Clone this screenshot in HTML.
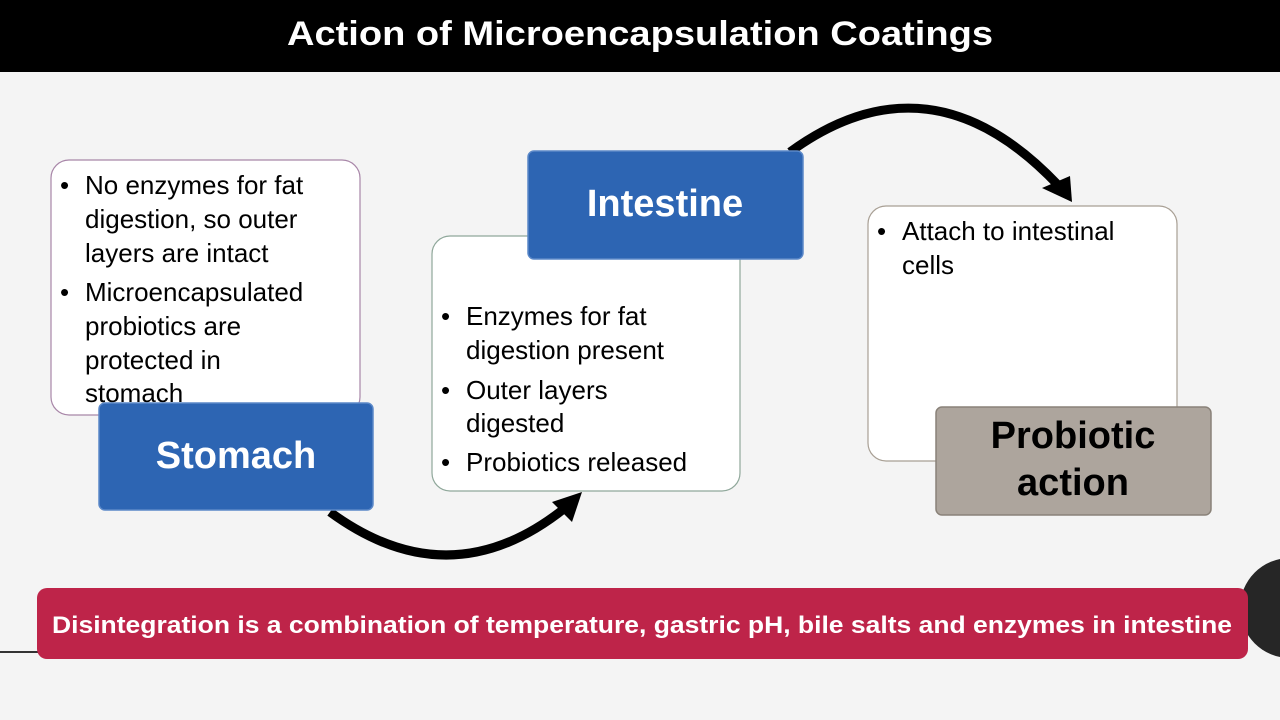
<!DOCTYPE html>
<html><head><meta charset="utf-8"><style>
html,body{margin:0;padding:0;background:#f4f4f4;}
svg{display:block;font-family:"Liberation Sans",sans-serif;}
</style></head><body>
<svg width="1280" height="720" viewBox="0 0 1280 720" xmlns="http://www.w3.org/2000/svg">
<rect width="1280" height="720" fill="#f4f4f4"/>
<rect width="1280" height="72" fill="#000"/>
<text x="640" y="45" fill="#fff" font-size="34" font-weight="bold" text-anchor="middle" textLength="706" lengthAdjust="spacingAndGlyphs">Action of Microencapsulation Coatings</text>

<!-- arrows -->
<path d="M330,512 Q450,600 565,508" fill="none" stroke="#000" stroke-width="9"/>
<polygon points="582,492 552,502 572,522" fill="#000"/>
<path d="M790,152 Q930,50 1058,185" fill="none" stroke="#000" stroke-width="9"/>
<polygon points="1072,202 1042,188 1070,176" fill="#000"/>

<!-- box1 -->
<rect x="51" y="160" width="309" height="255" rx="18" fill="#fff" stroke="#a886a8" stroke-width="1.2"/>
<g font-size="26" fill="#000">
<text x="60" y="194">•</text><text x="85" y="194">No enzymes for fat</text>
<text x="85" y="228">digestion, so outer</text>
<text x="85" y="262">layers are intact</text>
<text x="60" y="301">•</text><text x="85" y="301">Microencapsulated</text>
<text x="85" y="335">probiotics are</text>
<text x="85" y="369">protected in</text>
<text x="85" y="402">stomach</text>
</g>
<rect x="99" y="403" width="274" height="107" rx="6" fill="#2d65b3" stroke="#5b88c8" stroke-width="1.5"/>
<text x="236" y="468" font-size="38" font-weight="bold" fill="#fff" text-anchor="middle">Stomach</text>

<!-- box2 -->
<rect x="432" y="236" width="308" height="255" rx="18" fill="#fff" stroke="#8fa79a" stroke-width="1.2"/>
<g font-size="26" fill="#000">
<text x="441" y="325">•</text><text x="466" y="325">Enzymes for fat</text>
<text x="466" y="359">digestion present</text>
<text x="441" y="399">•</text><text x="466" y="399">Outer layers</text>
<text x="466" y="432">digested</text>
<text x="441" y="471">•</text><text x="466" y="471">Probiotics released</text>
</g>
<rect x="528" y="151" width="275" height="108" rx="6" fill="#2d65b3" stroke="#5b88c8" stroke-width="1.5"/>
<text x="665" y="216" font-size="38" font-weight="bold" fill="#fff" text-anchor="middle">Intestine</text>

<!-- box3 -->
<rect x="868" y="206" width="309" height="255" rx="18" fill="#fff" stroke="#a89f94" stroke-width="1.2"/>
<g font-size="26" fill="#000">
<text x="877" y="240">•</text><text x="902" y="240">Attach to intestinal</text>
<text x="902" y="274">cells</text>
</g>
<rect x="936" y="407" width="275" height="108" rx="6" fill="#ada59d" stroke="#8a8279" stroke-width="1.5"/>
<text x="1073" y="448" font-size="38" font-weight="bold" fill="#000" text-anchor="middle">Probiotic</text>
<text x="1073" y="495" font-size="38" font-weight="bold" fill="#000" text-anchor="middle">action</text>

<!-- bottom -->
<line x1="0" y1="652" x2="40" y2="652" stroke="#333" stroke-width="2"/>
<circle cx="1290" cy="608" r="50" fill="#262626"/>
<rect x="37" y="588" width="1211" height="71" rx="10" fill="#be2449"/>
<text x="642" y="633" font-size="24" font-weight="bold" fill="#fff" text-anchor="middle" textLength="1180" lengthAdjust="spacingAndGlyphs">Disintegration is a combination of temperature, gastric pH, bile salts and enzymes in intestine</text>
</svg>
</body></html>
